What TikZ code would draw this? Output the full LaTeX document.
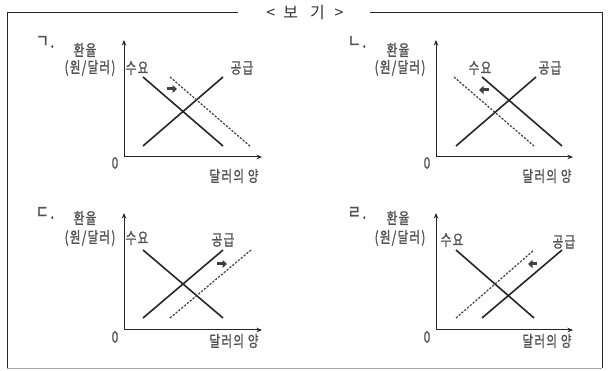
\documentclass[tikz,border=0pt]{standalone}
\usepackage{fontspec}
\setmainfont{Noto Sans CJK KR}
\newfontfamily\lab[FakeStretch=0.75,LetterSpace=8,FakeBold=1.2]{Noto Sans CJK KR}
\newfontfamily\ttl{Noto Sans CJK KR}
\usetikzlibrary{arrows.meta}
\tikzset{
  axisln/.style={draw=black!85, line width=1pt, -{Stealth[length=5.5pt,width=4.5pt]}},
  solidln/.style={draw=black!85, line width=1.6pt},
  dashln/.style={draw=black!75, line width=1.2pt, dash pattern=on 2.2pt off 1.5pt},
  shiftarr/.style={draw=black!75, line width=3pt, -{Triangle[length=4.5pt,width=8pt]}},
  lbl/.style={font=\lab\fontsize{15.5pt}{16pt}\selectfont, text=black!68, inner sep=0pt},
  letterlbl/.style={font=\lab\fontsize{19pt}{20pt}\selectfont, text=black!68, inner sep=0pt},
  ttlstyle/.style={font=\ttl\fontsize{16pt}{18pt}\selectfont, text=black!80, inner sep=0pt},
  frameln/.style={draw=black!85, line width=1pt},
}
\begin{document}
\begin{tikzpicture}[x=1pt,y=-1pt]
\useasboundingbox (0,0) rectangle (608,371);
% frame
\node[ttlstyle] (title) at (305,13) {<\hspace{8pt}보\hspace{12pt}기\hspace{10pt}>};
\coordinate (tl) at (238,13);
\coordinate (tr) at (370,13);
\coordinate (c1) at (7,13);
\coordinate (c2) at (7,368);
\coordinate (c3) at (602,368);
\coordinate (c4) at (602,13);
\draw[frameln] (tl) -- (c1) -- (c2);
\draw[frameln] (tr) -- (c4) -- (c3);
\draw[draw=black!35, line width=0.8pt] (c2) -- (c3);

% panel ㄱ
\begin{scope}[shift={(124,157)}, name prefix=a-]
  \coordinate (o) at (0,0);
  \coordinate (yt) at (0,-117);
  \coordinate (xe) at (138,0);
  \draw[axisln] (o) -- (yt);
  \draw[axisln] (o) -- (xe);
  \node[lbl] (zero) at (-9,6) {0};
  \node[lbl] (xl) at (110,19) {달러의 양};
  \node[letterlbl] (letter) at (-79,-115) {ㄱ.};
  \node[lbl] (yl1) at (-39,-107) {환율};
  \node[lbl] (yl2) at (-34,-89) {(원/달러)};
  \node[lbl] (dl) at (13,-89) {수요};
  \node[lbl] (sl) at (118,-89) {공급};
  \coordinate (d1) at (19,-80); \coordinate (d2) at (99,-11);
  \coordinate (s1) at (19,-11); \coordinate (s2) at (99,-80);
  \coordinate (n1) at (46,-80); \coordinate (n2) at (127,-10);
  \draw[solidln] (d1) -- (d2);
  \draw[solidln] (s1) -- (s2);
  \draw[dashln] (n1) -- (n2);
  \coordinate (a1) at (43,-68); \coordinate (a2) at (53,-68);
  \draw[shiftarr] (a1) -- (a2);
\end{scope}

% panel ㄴ
\begin{scope}[shift={(436,157)}, name prefix=b-]
  \coordinate (o) at (0,0);
  \coordinate (yt) at (0,-117);
  \coordinate (xe) at (137,0);
  \draw[axisln] (o) -- (yt);
  \draw[axisln] (o) -- (xe);
  \node[lbl] (zero) at (-9,6) {0};
  \node[lbl] (xl) at (111,19) {달러의 양};
  \node[letterlbl] (letter) at (-79,-115) {ㄴ.};
  \node[lbl] (yl1) at (-38,-107) {환율};
  \node[lbl] (yl2) at (-36,-89) {(원/달러)};
  \node[lbl] (dl) at (44,-89) {수요};
  \node[lbl] (sl) at (114,-89) {공급};
  \coordinate (d1) at (46,-80); \coordinate (d2) at (126,-11);
  \coordinate (s1) at (20,-11); \coordinate (s2) at (100,-80);
  \coordinate (n1) at (18,-80); \coordinate (n2) at (98,-11);
  \draw[solidln] (d1) -- (d2);
  \draw[solidln] (s1) -- (s2);
  \draw[dashln] (n1) -- (n2);
  \coordinate (a1) at (53,-67); \coordinate (a2) at (43,-67);
  \draw[shiftarr] (a1) -- (a2);
\end{scope}

% panel ㄷ
\begin{scope}[shift={(124,330)}, name prefix=c-]
  \coordinate (o) at (0,0);
  \coordinate (yt) at (0,-117);
  \coordinate (xe) at (138,0);
  \draw[axisln] (o) -- (yt);
  \draw[axisln] (o) -- (xe);
  \node[lbl] (zero) at (-9,7) {0};
  \node[lbl] (xl) at (110,11) {달러의 양};
  \node[letterlbl] (letter) at (-79,-117) {ㄷ.};
  \node[lbl] (yl1) at (-39,-112) {환율};
  \node[lbl] (yl2) at (-34,-92) {(원/달러)};
  \node[lbl] (dl) at (13,-92) {수요};
  \node[lbl] (sl) at (99,-90) {공급};
  \coordinate (d1) at (19,-80); \coordinate (d2) at (99,-12);
  \coordinate (s1) at (19,-12); \coordinate (s2) at (99,-80);
  \coordinate (n1) at (46,-12); \coordinate (n2) at (127,-80);
  \draw[solidln] (d1) -- (d2);
  \draw[solidln] (s1) -- (s2);
  \draw[dashln] (n1) -- (n2);
  \coordinate (a1) at (93,-66); \coordinate (a2) at (103,-66);
  \draw[shiftarr] (a1) -- (a2);
\end{scope}

% panel ㄹ
\begin{scope}[shift={(436,330)}, name prefix=d-]
  \coordinate (o) at (0,0);
  \coordinate (yt) at (0,-117);
  \coordinate (xe) at (137,0);
  \draw[axisln] (o) -- (yt);
  \draw[axisln] (o) -- (xe);
  \node[lbl] (zero) at (-9,7) {0};
  \node[lbl] (xl) at (111,11) {달러의 양};
  \node[letterlbl] (letter) at (-79,-117) {ㄹ.};
  \node[lbl] (yl1) at (-38,-112) {환율};
  \node[lbl] (yl2) at (-36,-92) {(원/달러)};
  \node[lbl] (dl) at (16,-90) {수요};
  \node[lbl] (sl) at (128,-88) {공급};
  \coordinate (d1) at (20,-80); \coordinate (d2) at (98,-12);
  \coordinate (s1) at (46,-12); \coordinate (s2) at (126,-80);
  \coordinate (n1) at (20,-12); \coordinate (n2) at (98,-80);
  \draw[solidln] (d1) -- (d2);
  \draw[solidln] (s1) -- (s2);
  \draw[dashln] (n1) -- (n2);
  \coordinate (a1) at (101,-66); \coordinate (a2) at (92,-66);
  \draw[shiftarr] (a1) -- (a2);
\end{scope}
\end{tikzpicture}
\end{document}
